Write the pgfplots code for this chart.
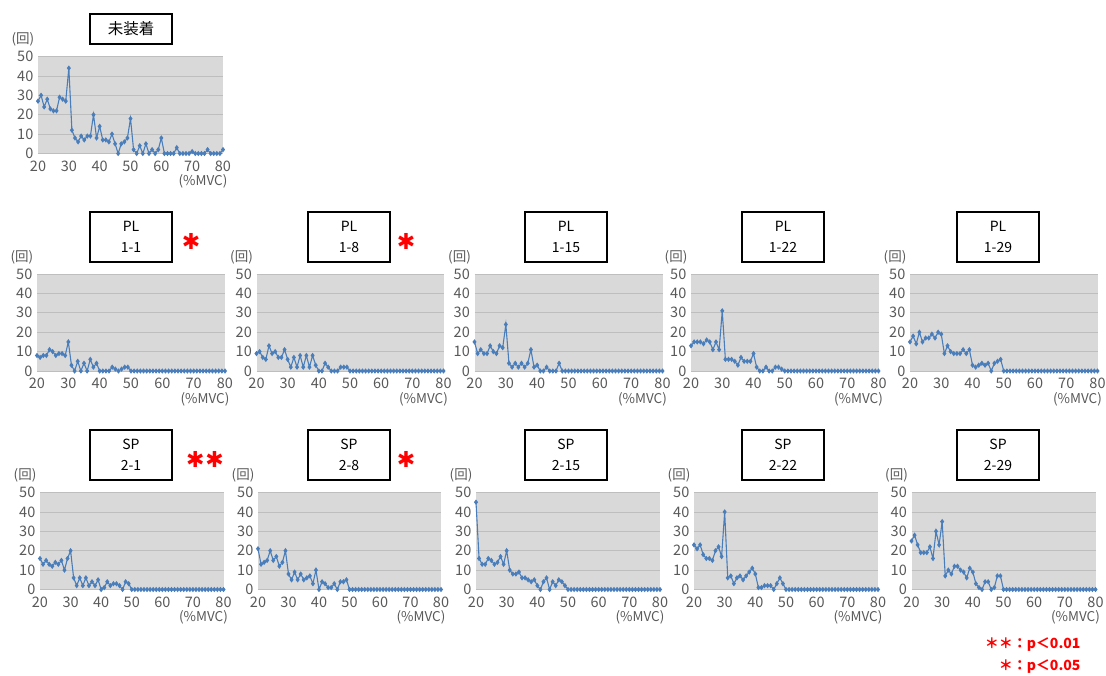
\documentclass[border=0pt]{standalone}
\usepackage{fontspec}
\setmainfont{Noto Sans CJK JP}
\newfontfamily\symfont{DejaVu Sans}
\usepackage{pgfplots}
\pgfplotsset{compat=1.18}
\usepackage{pgfplotstable}
\definecolor{plotbg}{RGB}{217,217,217}
\definecolor{gridc}{RGB}{190,190,190}
\definecolor{tickc}{RGB}{89,89,89}
\definecolor{lineb}{RGB}{74,126,187}
\definecolor{starred}{RGB}{255,0,0}

\pgfplotstableread{
x U A B C D E F G H I J
20 27 8 9 15 13 15 16 21 45 23 25
21 30 7 10 9 15 18 13 13 16 21 28
22 24 8 7 11 15 14 15 14 13 23 23
23 28 8 6 9 15 20 13 15 13 18 19
24 23 11 13 9 14 15 12 20 16 16 19
25 22 10 9 13 16 17 14 15 15 16 19
26 22 8 10 10 15 17 13 17 13 15 22
27 29 9 7 9 11 19 15 12 14 20 16
28 28 9 7 13 15 17 10 14 17 22 30
29 27 8 11 12 11 20 16 20 13 17 23
30 44 15 6 24 31 19 20 8 20 40 35
31 12 3 2 4 6 9 6 5 10 6 7
32 8 0 7 2 6 13 2 9 8 7 10
33 6 5 2 4 6 10 6 5 8 3 8
34 9 0 8 2 5 9 2 8 9 6 12
35 7 4 2 4 3 9 6 5 6 7 12
36 9 0 8 2 7 9 2 6 6 5 10
37 9 6 2 4 5 11 4 7 5 7 9
38 20 2 8 11 5 9 2 3 4 9 6
39 8 4 3 2 5 11 5 10 5 11 11
40 14 0 0 3 9 3 0 0 2 8 9
41 7 0 0 0 2 2 1 4 0 1 3
42 7 0 4 0 0 3 4 3 4 1 1
43 6 0 2 2 0 4 2 1 6 2 0
44 10 2 0 0 2 3 3 1 0 2 4
45 5 1 0 0 0 4 3 3 4 2 4
46 0 0 0 0 0 0 2 0 2 0 0
47 5 1 2 4 2 4 0 4 5 3 1
48 6 2 2 0 2 5 4 4 4 6 7
49 8 2 2 0 1 6 3 5 2 3 7
50 18 0 0 0 0 0 0 0 0 0 0
51 2 0 0 0 0 0 0 0 0 0 0
52 0 0 0 0 0 0 0 0 0 0 0
53 4 0 0 0 0 0 0 0 0 0 0
54 0 0 0 0 0 0 0 0 0 0 0
55 5 0 0 0 0 0 0 0 0 0 0
56 0 0 0 0 0 0 0 0 0 0 0
57 2 0 0 0 0 0 0 0 0 0 0
58 0 0 0 0 0 0 0 0 0 0 0
59 2 0 0 0 0 0 0 0 0 0 0
60 8 0 0 0 0 0 0 0 0 0 0
61 0 0 0 0 0 0 0 0 0 0 0
62 0 0 0 0 0 0 0 0 0 0 0
63 0 0 0 0 0 0 0 0 0 0 0
64 0 0 0 0 0 0 0 0 0 0 0
65 3 0 0 0 0 0 0 0 0 0 0
66 0 0 0 0 0 0 0 0 0 0 0
67 0 0 0 0 0 0 0 0 0 0 0
68 0 0 0 0 0 0 0 0 0 0 0
69 0 0 0 0 0 0 0 0 0 0 0
70 1 0 0 0 0 0 0 0 0 0 0
71 0 0 0 0 0 0 0 0 0 0 0
72 0 0 0 0 0 0 0 0 0 0 0
73 0 0 0 0 0 0 0 0 0 0 0
74 0 0 0 0 0 0 0 0 0 0 0
75 2 0 0 0 0 0 0 0 0 0 0
76 0 0 0 0 0 0 0 0 0 0 0
77 0 0 0 0 0 0 0 0 0 0 0
78 0 0 0 0 0 0 0 0 0 0 0
79 0 0 0 0 0 0 0 0 0 0 0
80 2 0 0 0 0 0 0 0 0 0 0
}\data

\pgfplotsset{
  base/.style={
    scale only axis, height=97pt, anchor=south west,
    xmin=20, xmax=80, ymin=0, ymax=50,
    xtick={20,30,...,80}, ytick={0,10,...,50},
    axis background/.style={fill=plotbg},
    ymajorgrids, major grid style={gridc, line width=0.8pt},
    axis line style={draw=none}, tick style={draw=none},
    ticklabel style={font=\fontsize{14.5}{15}\selectfont, text=tickc, inner sep=1pt},
    xticklabel style={yshift=-6pt},
    yticklabel style={xshift=-3.5pt},
    /pgf/number format/assume math mode=true,
    clip=false,
  },
}
\newcommand\panel[4]{%
  \begin{axis}[base, width=#3pt, at={(#1pt,-#2pt)}]
    \addplot[lineb, line width=1.1pt, mark=diamond*, mark size=1.8pt] table[x=x,y=#4]{\data};
  \end{axis}
  \node[font=\fontsize{13.5}{15}\selectfont, text=tickc, inner sep=1pt] at (#1pt-15pt,-#2pt+114pt) {(回)};
  \node[font=\fontsize{13.5}{15}\selectfont, text=tickc, inner sep=1pt] at (#1pt+#3pt-20pt,-#2pt-28pt) {(\%MVC)};
}
\newcommand\tbox[3]{%
  \node[draw=black, line width=1.2pt, minimum width=82pt, minimum height=50pt, align=center,
        font=\fontsize{14}{21}\selectfont, inner sep=0pt] at (#1pt,-#2pt) {#3};
}

\begin{document}
\begin{tikzpicture}
\path[use as bounding box] (0,0) rectangle (1106pt,-675pt);

% row 1
\panel{38}{153.5}{185}{U}
\node[draw=black, line width=1.2pt, minimum width=82pt, minimum height=30pt,
      font=\fontsize{15.5}{15}\selectfont, inner sep=0pt] at (131pt,-29pt) {未装着};

% row 2
\panel{37}{371}{188}{A}
\panel{256.5}{371}{187}{B}
\panel{474.5}{371}{188}{C}
\panel{691}{371}{187.5}{D}
\panel{910}{371}{187.5}{E}
\tbox{131}{237}{PL\\1-1}
\tbox{349}{237}{PL\\1-8}
\tbox{566}{237}{PL\\1-15}
\tbox{783}{237}{PL\\1-22}
\tbox{998}{237}{PL\\1-29}

% row 3
\panel{40}{589.5}{183.5}{F}
\panel{258}{589.5}{183}{G}
\panel{476}{589.5}{184}{H}
\panel{694}{589.5}{184}{I}
\panel{911.5}{589.5}{184}{J}
\tbox{131}{455}{SP\\2-1}
\tbox{349}{455}{SP\\2-8}
\tbox{566}{455}{SP\\2-15}
\tbox{783}{455}{SP\\2-22}
\tbox{998}{455}{SP\\2-29}

% significance stars
\node[text=starred, font=\symfont\fontsize{22}{22}\selectfont, inner sep=0pt] at (191pt,-241pt) {✱};
\node[text=starred, font=\symfont\fontsize{22}{22}\selectfont, inner sep=0pt] at (406pt,-241pt) {✱};
\node[text=starred, font=\symfont\fontsize{22}{22}\selectfont, inner sep=0pt] at (205pt,-459pt) {✱\kern1pt✱};
\node[text=starred, font=\symfont\fontsize{22}{22}\selectfont, inner sep=0pt] at (406pt,-459pt) {✱};

% legend
\node[anchor=east, text=starred, font=\fontsize{14}{14}\selectfont\bfseries] at (1084pt,-645pt) {＊＊：p＜0.01};
\node[anchor=east, text=starred, font=\fontsize{14}{14}\selectfont\bfseries] at (1084pt,-667pt) {＊：p＜0.05};
\end{tikzpicture}
\end{document}
